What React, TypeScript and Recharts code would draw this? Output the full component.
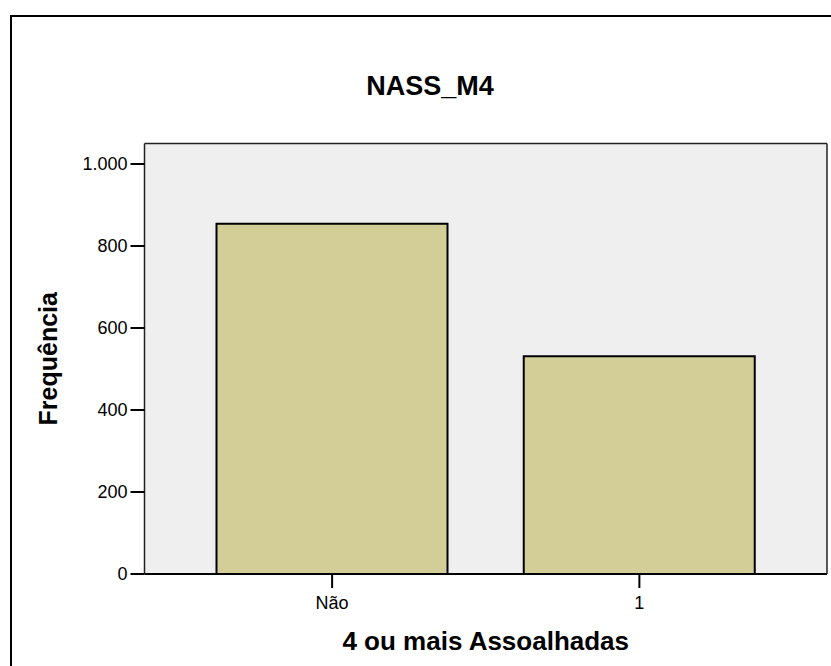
import React from 'react';
import { BarChart, Bar, XAxis, YAxis, CartesianGrid, Label } from 'recharts';

const categories = ['Não', '1'];
const frequencies = [854, 531];
const yTicks = [0, 200, 400, 600, 800, 1000];
const chartTitle = 'NASS_M4';
const xTitle = '4 ou mais Assoalhadas';
const yTitle = 'Frequência';

const data = categories.map((c, i) => ({ cat: c, freq: frequencies[i] }));

const FONT = '"Liberation Sans", Arial, Helvetica, sans-serif';

const fmt = (v: number) => v.toLocaleString('de-DE');

export default function App() {
  return (
    <div style={{ position: 'absolute', left: 0, top: 0, width: 831, height: 666, overflow: 'hidden', background: '#fff' }}>
      <div style={{ position: 'absolute', left: 10, top: 15, width: 900, height: 800, border: '2px solid #000' }} />
      <div style={{ position: 'absolute', left: 230, top: 71, width: 400, textAlign: 'center', fontFamily: FONT, fontWeight: 'bold', fontSize: 27, lineHeight: '30px', color: '#000' }}>
        {chartTitle}
      </div>
      <div style={{ position: 'absolute', left: 0, top: 0 }}>
        <BarChart
          width={831}
          height={666}
          data={data}
          margin={{ top: 142.5, right: 3, bottom: 52, left: 0 }}
          barSize={231}
        >
          <CartesianGrid fill="#efefef" horizontal={false} vertical={false} />
          <XAxis
            dataKey="cat"
            xAxisId="bottom"
            height={40}
            padding={{ left: 34, right: 34 }}
            tickSize={14}
            tickMargin={8}
            axisLine={{ stroke: '#000', strokeWidth: 2 }}
            tickLine={{ stroke: '#000', strokeWidth: 2 }}
            tick={{ fill: '#000', fontSize: 18, fontFamily: FONT }}
          >
            <Label
              value={xTitle}
              position="bottom"
              offset={18}
              style={{ fontFamily: FONT, fontWeight: 'bold', fontSize: 26, fill: '#000' }}
            />
          </XAxis>
          <XAxis
            dataKey="cat"
            xAxisId="top"
            orientation="top"
            height={1}
            padding={{ left: 34, right: 34 }}
            tick={false}
            tickLine={false}
            axisLine={{ stroke: '#222', strokeWidth: 1.5 }}
          />
          <YAxis
            yAxisId="left"
            width={144.5}
            domain={[0, 1050]}
            ticks={yTicks}
            tickFormatter={fmt}
            tickSize={14}
            tickMargin={3}
            axisLine={{ stroke: '#222', strokeWidth: 1.5 }}
            tickLine={{ stroke: '#000', strokeWidth: 2 }}
            tick={{ fill: '#000', fontSize: 18, fontFamily: FONT }}
          >
            <Label
              value={yTitle}
              angle={-90}
              position="insideLeft"
              offset={48}
              textAnchor="middle"
              style={{ fontFamily: FONT, fontWeight: 'bold', fontSize: 25, fill: '#000', textAnchor: 'middle' }}
            />
          </YAxis>
          <YAxis
            yAxisId="right"
            orientation="right"
            width={1}
            domain={[0, 1050]}
            tick={false}
            tickLine={false}
            axisLine={{ stroke: '#222', strokeWidth: 1.5 }}
          />
          <Bar
            dataKey="freq"
            xAxisId="bottom"
            yAxisId="left"
            fill="#d3ce98"
            stroke="#000"
            strokeWidth={2}
            isAnimationActive={false}
          />
        </BarChart>
      </div>
    </div>
  );
}
